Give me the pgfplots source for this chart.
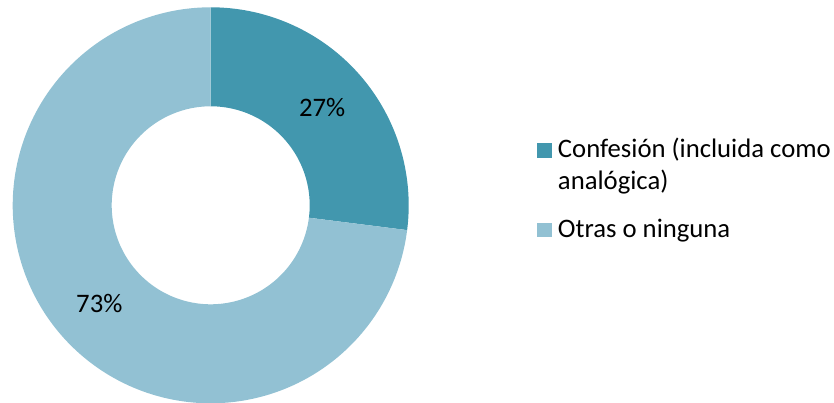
\documentclass[border=0pt]{standalone}
\usepackage{fontspec}
\setmainfont{Carlito}
\usepackage{pgfplots}
\usepgfplotslibrary{fillbetween}
\pgfplotsset{compat=1.18}
\definecolor{cA}{HTML}{4297AE}
\definecolor{cB}{HTML}{92C1D3}
\newcommand{\cfont}{\fontsize{26.7pt}{31.6pt}\selectfont}
\begin{document}
\begin{tikzpicture}[font=\cfont]
\pgfmathsetmacro{\aS}{90}
\pgfmathsetmacro{\aM}{90-27*3.6}
\pgfmathsetmacro{\aE}{\aM-73*3.6}
\begin{axis}[
  at={(12.7pt,-0.3pt)}, anchor=south west,
  width=396pt, height=396pt, scale only axis,
  xmin=-1, xmax=1, ymin=-1, ymax=1,
  hide axis, clip=false,
  legend style={draw=none, fill=none, inner sep=0pt, outer sep=0pt,
    at={(1.3247,0.6763)}, anchor=north west,
    font=\cfont,
    nodes={inner sep=0pt, anchor=base west},
    row sep=56pt, column sep=6pt},
  legend image code/.code={\fill[#1] (0pt,0pt) rectangle (14.7pt,14.7pt);},
]
\addplot[name path=o1, draw=none, forget plot, domain=\aM:\aS, samples=120] ({cos(x)},{sin(x)});
\addplot[name path=i1, draw=none, forget plot, domain=\aM:\aS, samples=120] ({0.5*cos(x)},{0.5*sin(x)});
\addplot[cA, draw=none, forget plot] fill between[of=o1 and i1];
\addplot[name path=o2, draw=none, forget plot, domain=\aE:\aM, samples=200] ({cos(x)},{sin(x)});
\addplot[name path=i2, draw=none, forget plot, domain=\aE:\aM, samples=200] ({0.5*cos(x)},{0.5*sin(x)});
\addplot[cB, draw=none, forget plot] fill between[of=o2 and i2];
\addlegendimage{fill=cA, draw=none}
\addlegendentry{\begin{tabular}[t]{@{}l@{}}Confesión (incluida como\\analógica)\end{tabular}}
\addlegendimage{fill=cB, draw=none}
\addlegendentry{\begin{tabular}[t]{@{}l@{}}Otras o ninguna\end{tabular}}
\node[font=\cfont] at (axis cs:{0.75*cos((\aS+\aM)/2)},{0.75*sin((\aS+\aM)/2)}) {27\%};
\node[font=\cfont] at (axis cs:{0.75*cos((\aM+\aE)/2)},{0.75*sin((\aM+\aE)/2)}) {73\%};
\end{axis}
\pgfresetboundingbox
\path[use as bounding box] (0,0) rectangle (834pt,403pt);
\end{tikzpicture}
\end{document}
